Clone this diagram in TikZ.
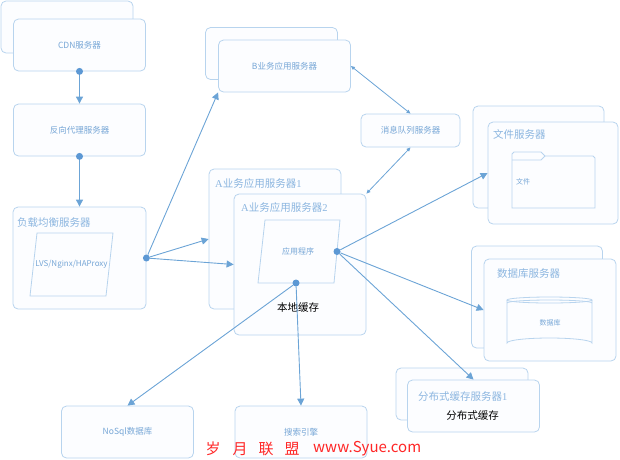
\documentclass[tikz,border=0pt]{standalone}
\usepackage{fontspec}
\setmainfont{Noto Sans CJK SC}
\newfontfamily\serifA{Liberation Serif}
\usepackage{xcolor}
\usepackage{tikz}
\usetikzlibrary{arrows.meta}

\definecolor{boxline}{RGB}{184,212,238}
\definecolor{linkline}{RGB}{108,164,214}
\definecolor{dotblue}{RGB}{92,152,212}
\definecolor{txtblue}{RGB}{118,166,214}
\definecolor{ttlblue}{RGB}{140,182,224}
\definecolor{boxfill}{RGB}{252,253,255}

\begin{document}
\begin{tikzpicture}[x=1pt, y=-1pt,
    box/.style = {draw=boxline, line width=0.8pt, rounded corners=5pt, fill=boxfill, inner sep=0pt, text=txtblue, font=\fontsize{8.5}{10}\selectfont},
    std/.style = {box, minimum width=132pt, minimum height=52pt},
    big/.style = {box, minimum width=131pt, minimum height=102pt},
    form/.style = {draw=boxline, line width=0.8pt},
    txt/.style = {inner sep=0pt, text=txtblue, font=\fontsize{8}{10}\selectfont},
    ttl/.style = {anchor=west, inner sep=0pt, text=ttlblue, font=\fontsize{10.5}{12}\selectfont},
    blk/.style = {inner sep=0pt, font=\fontsize{10.5}{12}\selectfont},
    dot/.style = {circle, fill=dotblue, inner sep=0pt, minimum size=7pt},
    arr/.style = {draw=linkline, line width=0.9pt, -{Triangle[length=7pt,width=7pt]}},
    arr2/.style = {draw=linkline, line width=0.8pt, {Triangle[length=4pt,width=3.5pt]}-{Triangle[length=4pt,width=3.5pt]}},
    wm/.style = {inner sep=0pt, text=red!85, font=\fontsize{15}{16}\selectfont}]
    \useasboundingbox (0,0) rectangle (620,459);

    % 左侧三层
    \node[std] (cdnbak) at (67,27) {};
    \node[std] (cdn) at (79.5,45) {CDN服务器};
    \node[std] (proxy) at (79.5,130) {反向代理服务器};
    \node[box, minimum width=133pt, minimum height=102pt] (lb) at (79.5,258) {};
    \node[ttl] (lbttl) at (17,223) {负载均衡服务器};
    \draw[form] (37,233) -- (113,233) -- (106,296) -- (30,296) -- cycle;
    \node[txt] (lvs) at (71.5,264) {LVS/Nginx/HAProxy};

    % 应用服务器
    \node[std] (bbak) at (271.5,53.5) {};
    \node[std] (bsrv) at (284.5,66) {B业务应用服务器};
    \node[box, minimum width=99pt, minimum height=33pt] (mq) at (410.5,130.5) {消息队列服务器};
    \node[box, minimum width=132pt, minimum height=140pt] (a1) at (275,239) {};
    \node[ttl] (a1ttl) at (215,183) {{\serifA A}业务应用服务器{\serifA 1}};
    \node[box, minimum width=132pt, minimum height=141pt] (a2) at (300,264.5) {};
    \node[ttl] (a2ttl) at (241,207) {{\serifA A}业务应用服务器{\serifA 2}};
    \draw[form] (265,220) -- (340,220) -- (334,283) -- (258,283) -- cycle;
    \node[txt] (app) at (298,251) {应用程序};
    \node[blk] (cache) at (298,308) {本地缓存};

    % 文件服务器
    \node[big] (filebak) at (538.5,157) {};
    \node[box, minimum width=130pt, minimum height=102pt] (file) at (553,173) {};
    \node[ttl] (filettl) at (493,134) {文件服务器};
    \draw[form] (512,208) -- (512,154) -- (514,152) -- (541,152) -- (545,156) -- (593,156) -- (595,158) -- (595,208) -- cycle;
    \draw[form] (512,160) -- (541,160) -- (545,156);
    \node[txt, anchor=west, font=\fontsize{7}{8}\selectfont] (folder) at (516,182) {文件};

    % 数据库服务器
    \node[big] (dbbak) at (537,297) {};
    \node[box, minimum width=132pt, minimum height=102pt] (db) at (550,310) {};
    \node[ttl] (dbttl) at (497,274) {数据库服务器};
    \draw[form] (549.5,300) ellipse [x radius=42.5, y radius=3];
    \draw[form] (507,303) arc [start angle=180, end angle=360, x radius=42.5, y radius=3];
    \draw[form] (507,300) -- (507,343) arc [start angle=180, end angle=360, x radius=42.5, y radius=5] -- (592,300);
    \node[txt, font=\fontsize{7}{8}\selectfont] (dbname) at (550,323) {数据库};

    % 分布式缓存
    \node[std] (dcbak) at (462,394) {};
    \node[std] (dc) at (473.5,406) {};
    \node[ttl] (dcttl) at (418,397) {分布式缓存服务器{\serifA 1}};
    \node[blk] (dcname) at (472.5,416) {分布式缓存};

    % 底部
    \node[std] (nosql) at (127.5,432) {NoSql数据库};
    \node[std] (search) at (301,432) {搜索引擎};

    % 圆点
    \node[dot] (cdnd) at (cdn.south) {};
    \node[dot] (proxyd) at (proxy.south) {};
    \node[dot] (lbd) at (lb.east) {};
    \node[dot] (appr) at (337,251.5) {};
    \node[dot] (appb) at (296,283) {};

    % 连线
    \draw[arr] (cdnd) -- (proxy.north);
    \draw[arr] (proxyd) -- (lb.north);
    \draw[arr] (lbd) -- (bsrv.south west);
    \draw[arr] (lbd) -- (a1.west);
    \draw[arr] (lbd) -- (a2.west);
    \draw[arr2] (bsrv.east) -- (mq.north);
    \draw[arr2] (mq.south) -- (a2.north east);
    \draw[arr] (appr) -- (file.west);
    \draw[arr] (appr) -- (db.west);
    \draw[arr] (appr) -- (dc.north);
    \draw[arr] (appb) -- (nosql.north);
    \draw[arr] (appb) -- (search.north);

    % 水印
    \node[wm] (w1) at (213,449) {岁};
    \node[wm] (w2) at (240,449) {月};
    \node[wm] (w3) at (266,449) {联};
    \node[wm] (w4) at (292,449) {盟};
    \node[wm, anchor=west] (w5) at (313,449) {www.Syue.com};
\end{tikzpicture}
\end{document}
